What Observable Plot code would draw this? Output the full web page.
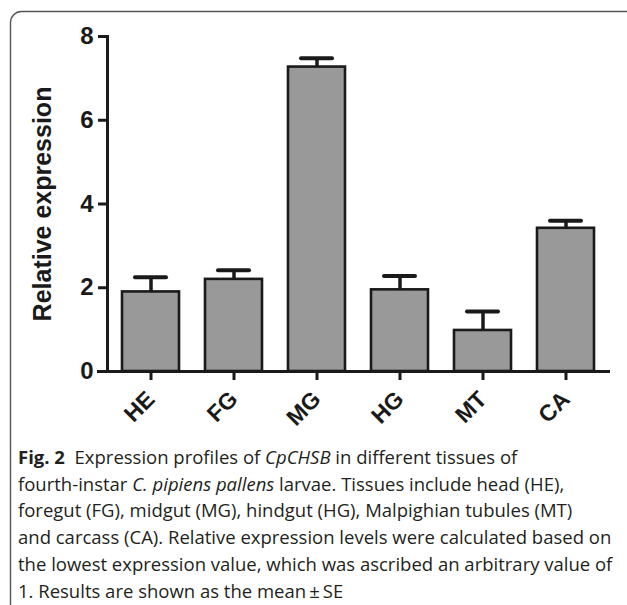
<!DOCTYPE html>
<html>
<head>
<meta charset="utf-8">
<script src="https://cdn.jsdelivr.net/npm/d3@7"></script>
<script src="https://cdn.jsdelivr.net/npm/@observablehq/plot@0.6"></script>
<style>
  html, body { margin: 0; padding: 0; background: #fff; }
  body { width: 627px; height: 605px; overflow: hidden; position: relative; }
  #frame { position: absolute; left: 0; top: 0; z-index: 2; pointer-events: none; }
  #chart { position: absolute; left: 0; top: 0; }
  #caption { position: absolute; left: 18px; top: 444px; font-family: "Open Sans", sans-serif;
             font-size: 18.5px; line-height: 26.7px; color: #231f20; white-space: nowrap; }
  #caption b { font-weight: 700; }
</style>
</head>
<body>
<svg id="frame" width="627" height="605"><rect x="10.5" y="11.5" width="660" height="660" rx="11" ry="11" fill="none" stroke="#555" stroke-width="1.4"/></svg>
<div id="chart"></div>
<div id="caption">
<b>Fig. 2</b>&nbsp; Expression profiles of <i>CpCHSB</i> in different tissues of<br>
fourth-instar <i>C. pipiens pallens</i> larvae. Tissues include head (HE),<br>
foregut (FG), midgut (MG), hindgut (HG), Malpighian tubules (MT)<br>
and carcass (CA). Relative expression levels were calculated based on<br>
the lowest expression value, which was ascribed an arbitrary value of<br>
1. Results are shown as the mean&thinsp;±&thinsp;SE
</div>
<script>
const tissues = ["HE", "FG", "MG", "HG", "MT", "CA"];
const means = [1.90, 2.20, 7.27, 1.95, 0.98, 3.42];
const errors = [0.35, 0.22, 0.21, 0.33, 0.45, 0.18];
const yTicks = [0, 2, 4, 6, 8];

const data = tissues.map((t, i) => ({tissue: t, value: means[i], upper: means[i] + errors[i]}));
const ink = "#1a1a1a";

const chart = Plot.plot({
  width: 627,
  height: 440,
  marginTop: 36,
  marginBottom: 69,
  marginLeft: 107,
  marginRight: 19,
  style: {fontFamily: "'Liberation Sans', Arial, sans-serif", fontWeight: "bold", color: ink, background: "transparent"},
  x: {domain: tissues, paddingInner: 0.317, paddingOuter: 0.164, label: null},
  y: {domain: [0, 8], label: null},
  marks: [
    Plot.barY(data, {x: "tissue", y: "value", fill: "#999999", stroke: ink, strokeWidth: 2.6}),
    Plot.ruleX(data, {x: "tissue", y1: "value", y2: "upper", stroke: ink, strokeWidth: 3.5}),
    Plot.tickY(data, {x: "tissue", y: "upper", stroke: ink, strokeWidth: 4, strokeLinecap: "round", insetLeft: 13, insetRight: 13}),
    Plot.ruleY([0], {stroke: ink, strokeWidth: 3, insetLeft: -10, insetRight: -2}),
    Plot.frame({anchor: "left", stroke: ink, strokeWidth: 3}),
    Plot.axisY({ticks: yTicks, tickSize: 9, tickPadding: 5, strokeWidth: 3, fontSize: 24, label: "Relative expression", labelArrow: "none", labelAnchor: "center", labelOffset: 74}),
    Plot.axisX({tickSize: 9, tickPadding: 15, strokeWidth: 3, fontSize: 23, tickRotate: -45, label: null})
  ]
});
chart.querySelectorAll("text").forEach(t => t.setAttribute("font-weight", "bold"));
chart.querySelectorAll("[aria-label='y-axis label'] text").forEach(t => t.setAttribute("font-size", "25"));
document.getElementById("chart").appendChild(chart);
</script>
</body>
</html>
